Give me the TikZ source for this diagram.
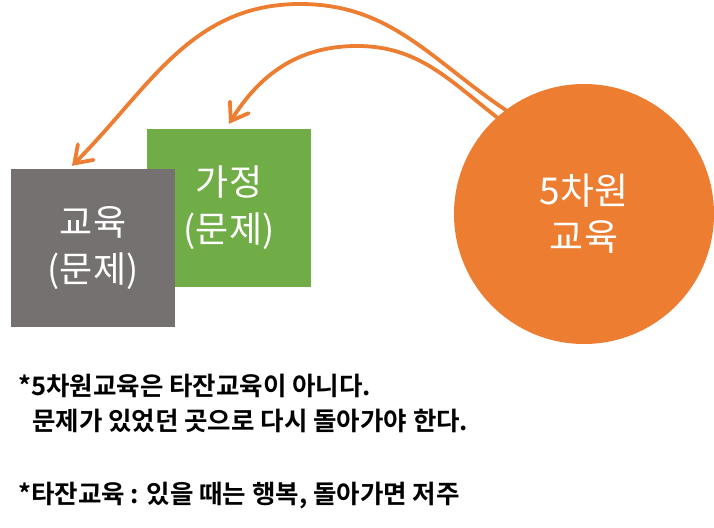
\documentclass[tikz,border=0pt]{standalone}
\usepackage{fontspec}
\usetikzlibrary{arrows.meta}
\newfontfamily\kr{Noto Sans CJK KR}
\newfontfamily\krbold{Noto Sans CJK KR Bold}
\definecolor{eduorange}{RGB}{237,125,49}
\definecolor{edugray}{RGB}{117,113,113}
\definecolor{famgreen}{RGB}{112,173,71}
\tikzset{
  probbox/.style={rectangle, inner sep=0pt, minimum width=164pt, minimum height=158pt,
    text=white, align=center, font=\fontsize{36}{47}\selectfont\kr},
  backarrow/.style={draw=eduorange, line width=3.8pt, line cap=round,
    -{Straight Barb[length=16pt,width=22pt,line cap=round]}},
  note/.style={anchor=west, inner sep=0pt, font=\fontsize{25.5}{30}\selectfont\krbold}
}

\begin{document}
\begin{tikzpicture}[x=1pt, y=-1pt]
  \useasboundingbox (0,0) rectangle (714,527);

  % problem boxes (green behind gray)
  \node[probbox, fill=famgreen] (fam) at (229,208) {가정\\(문제)};
  \node[probbox, fill=edugray] (edu) at (93,248) {교육\\(문제)};

  % 5D education
  \node[circle, fill=eduorange, inner sep=0pt, minimum size=260pt, text=white,
    align=center, font=\fontsize{37}{46}\selectfont\kr] (circ) at (584,214) {5차원\\교육};

  % way back
  \coordinate (peakA) at (300,4);
  \coordinate (peakB) at (357,46);
  \draw[backarrow] (circ.127) to[out=146,in=0] (peakA)
    to[out=180,in=45] ([xshift=-21pt,yshift=3pt]edu.north);
  \draw[backarrow] (circ.132) to[out=142,in=0] (peakB)
    to[out=180,in=58] ([yshift=5pt]fam.north);

  % notes
  \node[note] (noteA) at (18,386) {*5차원교육은 타잔교육이 아니다.};
  \node[note] (noteB) at (32,421) {문제가 있었던 곳으로 다시 돌아가야 한다.};
  \node[note] (noteC) at (18,496) {*타잔교육 : 있을 때는 행복, 돌아가면 저주};
\end{tikzpicture}
\end{document}
